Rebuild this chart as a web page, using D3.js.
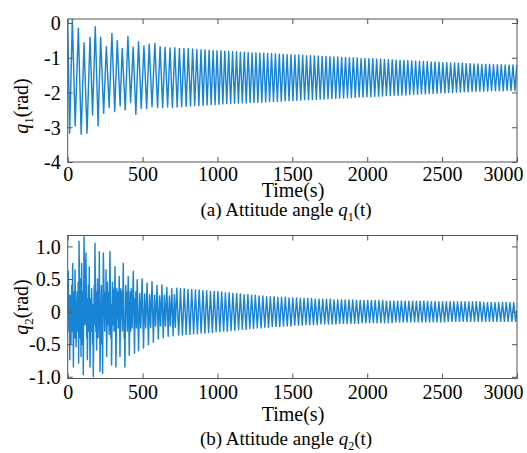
<!DOCTYPE html>
<html>
<head>
<meta charset="utf-8">
<script src="https://cdn.jsdelivr.net/npm/d3@7"></script>
<style>
  body { margin: 0; background: #fff; }
  text { font-family: "Liberation Serif", "Times New Roman", serif; fill: #000; }
</style>
</head>
<body>
<svg width="527" height="453"></svg>
<script>
const xTicks = [0, 500, 1000, 1500, 2000, 2500, 3000]
const xTickLabels = ['0', '500', '1000', '1500', '2000', '2500', '3000']
const q1Ticks = [0, -1, -2, -3, -4]
const q1TickLabels = ['0', '-1', '-2', '-3', '-4']
const q2Ticks = [1, 0.5, 0, -0.5, -1]
const q2TickLabels = ['1.0', '0.5', '0', '-0.5', '-1.0']

// [time (s), angle (rad)] turning points
const q1Extrema = [
  [0,0],[13,-3.17],[31,0.1],[50,-2.96],[71,-0.15],[90,-3.2],[109,-0.57],[129,-3.17],[149,-0.41],[166,-2.65],
  [184,-0.11],[203,-2.96],[220,-0.41],[240,-2.6],[258,-0.68],[277,-2.43],[295,-0.3],[314,-2.55],[331,-0.51],[350,-2.39],
  [364,-0.73],[384,-2.5],[402,-0.39],[420,-2.29],[437,-0.7],[455,-2.63],[473,-0.54],[491,-2.46],[509,-0.66],[527,-2.46],
  [544,-0.61],[563,-2.41],[582,-0.59],[600,-2.43],[617,-0.68],[634,-2.44],[650,-0.7],[667,-2.42],[683,-0.72],[699,-2.43],
  [715,-0.71],[731,-2.42],[746,-0.73],[761,-2.41],[776,-0.74],[791,-2.4],[805,-0.74],[820,-2.39],[834,-0.75],[848,-2.38],
  [862,-0.76],[876,-2.38],[890,-0.77],[904,-2.37],[917,-0.77],[931,-2.36],[944,-0.78],[958,-2.35],[971,-0.79],[984,-2.35],
  [997,-0.8],[1010,-2.34],[1023,-0.8],[1036,-2.33],[1049,-0.81],[1062,-2.32],[1075,-0.82],
  [1088,-2.32],[1101,-0.83],[1114,-2.31],[1127,-0.83],[1140,-2.31],[1153,-0.84],[1166,-2.3],[1179,-0.84],[1192,-2.3],[1205,-0.85],
  [1218,-2.29],[1231,-0.86],[1244,-2.29],[1257,-0.86],[1270,-2.28],[1283,-0.87],[1296,-2.28],[1309,-0.87],[1322,-2.27],[1335,-0.88],
  [1348,-2.26],[1361,-0.88],[1374,-2.26],[1387,-0.89],[1400,-2.25],[1413,-0.9],[1426,-2.25],[1439,-0.9],[1452,-2.24],[1465,-0.91],
  [1478,-2.24],[1491,-0.91],[1504,-2.23],[1517,-0.92],[1530,-2.23],[1543,-0.92],[1556,-2.22],[1569,-0.93],[1582,-2.21],[1595,-0.94],
  [1608,-2.21],[1621,-0.94],[1634,-2.2],[1647,-0.95],[1660,-2.2],[1673,-0.95],[1686,-2.19],[1699,-0.96],[1712,-2.19],[1725,-0.96],
  [1738,-2.18],[1751,-0.97],[1764,-2.17],[1777,-0.98],[1790,-2.17],[1803,-0.98],[1816,-2.16],[1829,-0.99],[1842,-2.16],[1855,-0.99],
  [1868,-2.15],[1881,-1.0],[1894,-2.15],[1907,-1.0],[1920,-2.14],[1933,-1.01],[1946,-2.13],[1959,-1.02],[1972,-2.13],[1985,-1.02],
  [1998,-2.12],[2011,-1.03],[2024,-2.12],[2037,-1.03],[2050,-2.11],[2063,-1.04],[2076,-2.11],[2089,-1.04],[2102,-2.1],[2115,-1.05],
  [2128,-2.09],[2141,-1.06],[2154,-2.09],[2167,-1.06],[2180,-2.08],[2193,-1.07],[2206,-2.08],[2219,-1.07],[2232,-2.07],[2245,-1.08],
  [2258,-2.07],[2271,-1.08],[2284,-2.06],[2297,-1.09],[2310,-2.05],[2323,-1.1],[2336,-2.05],[2349,-1.1],[2362,-2.04],[2375,-1.11],
  [2388,-2.04],[2401,-1.11],[2414,-2.03],[2427,-1.12],[2440,-2.03],[2453,-1.12],[2466,-2.02],[2479,-1.13],[2492,-2.01],[2505,-1.14],
  [2518,-2.01],[2531,-1.14],[2544,-2.0],[2557,-1.15],[2570,-2.0],[2583,-1.15],[2596,-1.99],[2609,-1.16],[2622,-1.99],[2635,-1.16],
  [2648,-1.98],[2661,-1.17],[2674,-1.98],[2687,-1.17],[2700,-1.97],[2713,-1.18],[2726,-1.97],[2739,-1.18],[2752,-1.96],[2765,-1.19],
  [2778,-1.96],[2791,-1.19],[2804,-1.96],[2817,-1.19],[2830,-1.95],[2843,-1.2],[2856,-1.95],[2869,-1.2],[2882,-1.95],[2895,-1.2],
  [2908,-1.95],[2921,-1.21],[2934,-1.94],[2947,-1.21],[2960,-1.94],[2973,-1.21],[2986,-1.94],[2999,-1.21]
]

const q2Extrema = [
  [0,0],[4,0.62],[8,-0.3],[11,0.2],[14,-0.74],[16,0.25],[22,-0.49],[27,0.4],[30,-0.3],[33,0.74],[38,-0.85],[43,0.3],[46,-0.4],
  [49,0.64],[56,-0.54],[63,0.3],[67,-0.3],[70,0.45],[73,-0.79],[76,1.08],[82,-0.4],[86,0.5],[89,-0.69],[93,0.74],[98,-0.5],[101,0.3],
  [104,-0.97],[109,1.15],[116,-0.2],[122,0.9],[127,-0.4],[129,0.2],[131,-0.74],[138,0.4],[141,-0.3],[144,0.69],
  [149,-0.85],[155,0.2],[157,-0.3],[160,0.35],[166,-0.5],[168,0.1],[171,-1.0],[177,0.4],[180,-0.2],[182,1.05],[188,-0.3],[190,0.3],
  [193,-0.59],[199,0.5],[203,-0.4],[207,0.3],[209,-0.2],[211,0.92],[216,-0.92],[225,0.4],[229,-0.5],[231,0.2],[233,-0.95],[238,0.9],
  [247,-0.3],[252,0.3],[254,-0.1],[256,0.64],[260,-0.69],[266,0.45],[268,-0.2],[271,0.3],[277,-0.35],[282,0.92],[288,-0.4],[290,0.1],[293,-0.82],
  [299,0.45],[301,-0.2],[304,0.35],[310,-0.3],[316,0.69],[322,-0.85],[328,0.35],[330,-0.1],[333,0.3],[338,-0.25],[344,0.54],[349,-0.69],
  [355,0.35],[357,-0.1],[360,0.3],[365,-0.3],[371,0.74],[377,-0.4],[379,-0.2],[382,-0.85],[388,0.4],[390,0.1],[393,0.3],
  [398,-0.3],[404,0.54],[411,-0.67],[417,0.3],[420,-0.3],[424,0.35],[430,-0.25],[438,0.62],[446,-0.64],[451,0.2],[453,-0.1],[455,0.3],[459,-0.25],
  [464,0.49],[473,-0.6],[481,0.28],[488,-0.25],[497,0.5],[506,-0.56],[514,0.27],[521,-0.25],
  [530,0.44],[539,-0.51],[547,0.26],[554,-0.24],[563,0.46],[572,-0.47],[580,0.25],[587,-0.22],
  [596,0.4],[605,-0.42],[613,0.24],[620,-0.22],[629,0.41],[638,-0.4],[646,0.25],[653,-0.22],
  [662,0.37],[671,-0.38],[679,0.24],[686,-0.22],[695,0.35],[704,-0.37],[712,0.26],[719,-0.24],[728,0.36],[741,-0.36],
  [753,.35],[766,-.36],[778,.35],[791,-.35],[803,.34],[816,-.35],[828,.34],[841,-.34],[853,.33],[866,-.34],
  [878,.33],[891,-.33],[903,.32],[916,-.33],[928,.32],[941,-.32],[953,.31],[966,-.32],[978,.31],[991,-.31],
  [1003,.31],[1016,-.31],[1028,.30],[1041,-.30],[1053,.29],[1066,-.30],[1078,.29],[1091,-.29],[1103,.28],[1116,-.29],
  [1128,.28],[1141,-.28],[1153,.27],[1166,-.27],[1178,.26],[1191,-.27],[1203,.26],[1216,-.26],[1228,.25],[1241,-.26],
  [1253,.25],[1266,-.25],[1278,.24],[1291,-.25],[1303,.24],[1316,-.24],[1328,.23],[1341,-.24],[1353,.23],[1366,-.23],
  [1378,.23],[1391,-.23],[1403,.22],[1416,-.23],[1428,.22],[1441,-.22],[1453,.22],[1466,-.22],[1478,.21],[1491,-.22],
  [1503,.21],[1516,-.21],[1528,.21],[1541,-.21],[1553,.20],[1566,-.21],[1578,.20],[1591,-.20],[1603,.20],[1616,-.20],
  [1628,.20],[1641,-.20],[1653,.19],[1666,-.20],[1678,.19],[1691,-.19],[1703,.19],[1716,-.19],[1728,.19],[1741,-.19],
  [1753,.19],[1766,-.19],[1778,.18],[1791,-.19],[1803,.18],[1816,-.18],[1828,.18],[1841,-.18],[1853,.18],[1866,-.18],
  [1878,.18],[1891,-.18],[1903,.18],[1916,-.18],[1928,.17],[1941,-.18],[1953,.17],[1966,-.17],[1978,.17],[1991,-.17],
  [2003,.17],[2016,-.17],[2028,.17],[2041,-.17],[2053,.17],[2066,-.17],[2078,.17],[2091,-.17],[2103,.17],[2116,-.17],
  [2128,.16],[2141,-.17],[2153,.16],[2166,-.17],[2178,.16],[2191,-.16],[2203,.16],[2216,-.16],[2228,.16],[2241,-.16],
  [2253,.16],[2266,-.16],[2278,.16],[2291,-.16],[2303,.16],[2316,-.16],[2328,.16],[2341,-.16],[2353,.16],[2366,-.16],
  [2378,.16],[2391,-.16],[2403,.16],[2416,-.16],[2428,.15],[2441,-.16],[2453,.15],[2466,-.16],[2478,.15],[2491,-.16],
  [2503,.15],[2516,-.16],[2528,.15],[2541,-.15],[2553,.15],[2566,-.15],[2578,.15],[2591,-.15],[2603,.15],[2616,-.15],
  [2628,.15],[2641,-.15],[2653,.15],[2666,-.15],[2678,.15],[2691,-.15],[2703,.15],[2716,-.15],[2728,.15],[2741,-.15],
  [2753,.15],[2766,-.15],[2778,.14],[2791,-.15],[2803,.14],[2816,-.15],[2828,.14],[2841,-.15],[2853,.14],[2866,-.15],
  [2878,.14],[2891,-.15],[2903,.14],[2916,-.15],[2928,.14],[2941,-.15],[2953,.14],[2966,-.15],[2978,.14],[2991,-.15],[3000,0.02]
]

const lineColor = '#1a84d4'
const frameColor = '#555'
const serif = '"Liberation Serif", "Times New Roman", serif'
const left = 67.7, right = 517

const svg = d3.select('svg')

const panels = [
  { id: 'a', data: q1Extrema, top: 19, bottom: 162, domain: [-4, 0.115], ticks: q1Ticks, labels: q1TickLabels,
    sub: '1', labelY: 106, tickLabelY: 180.5, timeY: 197, captionY: 216 },
  { id: 'b', data: q2Extrema, top: 235.5, bottom: 378.5, domain: [-1.027, 1.168], ticks: q2Ticks, labels: q2TickLabels,
    sub: '2', labelY: 307, tickLabelY: 399, timeY: 421, captionY: 445 }
]

const xScale = d3.scaleLinear().domain([0, 3000]).range([left, right])

panels.forEach(p => {
  const yScale = d3.scaleLinear().domain(p.domain).range([p.bottom, p.top])
  const g = svg.append('g')

  g.append('clipPath').attr('id', 'clip-' + p.id)
    .append('rect')
    .attr('x', left).attr('y', p.top)
    .attr('width', right - left).attr('height', p.bottom - p.top)

  const line = d3.line()
    .x(d => xScale(d[0]))
    .y(d => yScale(d[1]))

  g.append('path')
    .datum(p.data)
    .attr('clip-path', `url(#clip-${p.id})`)
    .attr('fill', 'none')
    .attr('stroke', lineColor)
    .attr('stroke-width', 1.45)
    .attr('stroke-linejoin', 'round')
    .attr('d', line)

  const yAxis = d3.axisLeft(yScale)
    .tickValues(p.ticks)
    .tickFormat((d, i) => p.labels[i])
    .tickSizeInner(-5).tickSizeOuter(0).tickPadding(7)
  const yAxisR = d3.axisRight(yScale)
    .tickValues(p.ticks).tickFormat('')
    .tickSizeInner(-5).tickSizeOuter(0)
  const xAxis = d3.axisBottom(xScale)
    .tickValues(xTicks)
    .tickFormat((d, i) => xTickLabels[i])
    .tickSizeInner(-5).tickSizeOuter(0).tickPadding(0)
  const xAxisT = d3.axisTop(xScale)
    .tickValues(xTicks).tickFormat('')
    .tickSizeInner(-5).tickSizeOuter(0)

  const axes = [
    g.append('g').attr('transform', `translate(${left},0)`).call(yAxis),
    g.append('g').attr('transform', `translate(${right},0)`).call(yAxisR),
    g.append('g').attr('transform', `translate(0,${p.bottom})`).call(xAxis),
    g.append('g').attr('transform', `translate(0,${p.top})`).call(xAxisT)
  ]
  axes.forEach(a => {
    a.attr('font-family', serif).attr('font-size', 20)
    a.select('.domain').remove()
    a.selectAll('.tick line').attr('stroke', frameColor)
    a.selectAll('text').style('font-family', serif).style('font-size', '20px').attr('fill', '#000')
  })
  axes[0].selectAll('.tick text').attr('dy', '0.34em')
  axes[2].selectAll('.tick text')
    .attr('dy', null)
    .attr('y', p.tickLabelY - p.bottom)
    .attr('dx', d => d === 3000 ? -14 : 0)

  g.append('rect')
    .attr('x', left).attr('y', p.top)
    .attr('width', right - left).attr('height', p.bottom - p.top)
    .attr('fill', 'none')
    .attr('stroke', frameColor)
    .attr('stroke-width', 1)

  // y axis title
  const yt = g.append('text')
    .attr('transform', `translate(28,${p.labelY}) rotate(-90)`)
    .attr('text-anchor', 'middle')
    .attr('font-size', 20)
  yt.append('tspan').attr('font-style', 'italic').text('q')
  yt.append('tspan').attr('font-size', 13).attr('dy', 5).text(p.sub)
  yt.append('tspan').attr('dy', -5).text('(rad)')

  g.append('text')
    .attr('x', 293).attr('y', p.timeY)
    .attr('text-anchor', 'middle')
    .attr('font-size', 20)
    .text('Time(s)')

  const cap = g.append('text')
    .attr('x', 286).attr('y', p.captionY)
    .attr('text-anchor', 'middle')
    .attr('font-size', 19)
  cap.append('tspan').text(`(${p.id}) Attitude angle `)
  cap.append('tspan').attr('font-style', 'italic').text('q')
  cap.append('tspan').attr('font-size', 12).attr('dy', 5).text(p.sub)
  cap.append('tspan').attr('dy', -5).text('(t)')
})
</script>
</body>
</html>
